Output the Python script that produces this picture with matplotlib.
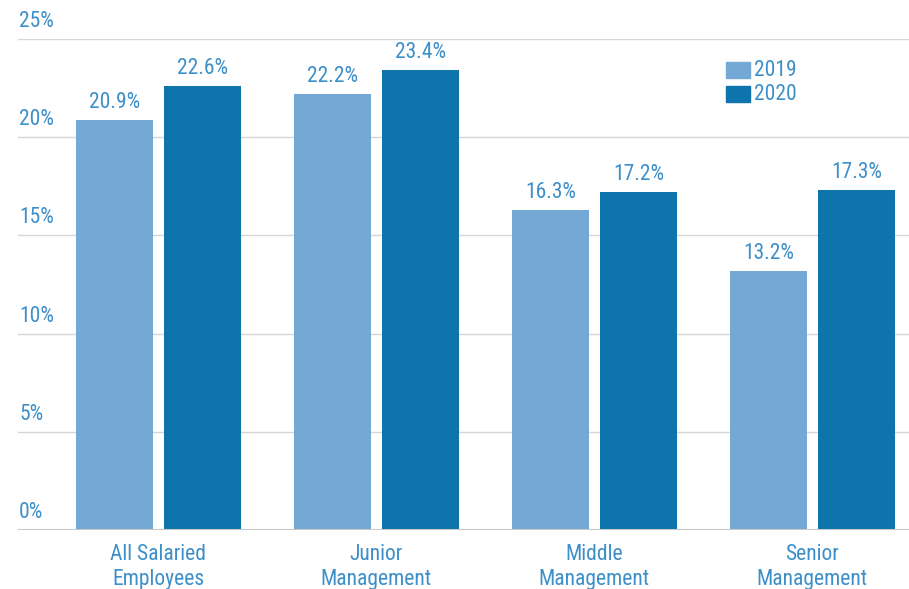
import matplotlib
matplotlib.use("Agg")
import matplotlib.pyplot as plt
import matplotlib.transforms as mtransforms
from matplotlib.patches import Rectangle
import numpy as np

categories = ["All Salaried\nEmployees", "Junior\nManagement", "Middle\nManagement", "Senior\nManagement"]
series_names = ["2019", "2020"]
values_2019 = [20.9, 22.2, 16.3, 13.2]
values_2020 = [22.6, 23.4, 17.2, 17.3]
yticks = [0, 5, 10, 15, 20, 25]
ytick_labels = ["0%", "5%", "10%", "15%", "20%", "25%"]

c2019 = "#74A8D5"
c2020 = "#0E75AC"
txt = "#3D8FC9"
fs = 15.5

plt.rcParams['font.family'] = ['Roboto Condensed', 'DejaVu Sans']

fig = plt.figure(figsize=(9.09, 5.89), dpi=100)
ax = fig.add_axes([18/909, 59/589, 1 - 18/909, (530-39)/589])
ax.set_xlim(-0.644, 3.443)
ax.set_ylim(0, 25)

x = np.arange(len(categories))
w = 77/218
off = 44/218
ax.bar(x - off, values_2019, w, color=c2019, zorder=3)
ax.bar(x + off, values_2020, w, color=c2020, zorder=3)

for xs, vals in ((x - off, values_2019), (x + off, values_2020)):
    for xi, v in zip(xs, vals):
        ax.annotate(f"{v:.1f}%", (xi, v), xytext=(0, 5), textcoords="offset points",
                    ha="center", va="bottom", color=txt, fontsize=fs)

for t in yticks:
    if t == 0:
        ax.axhline(t, color="#C8C8C8", lw=2.2, zorder=4)
    else:
        ax.axhline(t, color="#D6D6D6", lw=1, zorder=1)

trans = mtransforms.blended_transform_factory(fig.transFigure, ax.transData)
for t, lab in zip(yticks, ytick_labels):
    ax.annotate(lab, (19/909, t), xycoords=trans, xytext=(0, 5), textcoords="offset points",
                ha="left", va="bottom", color=txt, fontsize=fs, annotation_clip=False)

for xi, lab in zip(x, categories):
    ax.annotate(lab, (xi, 0), xytext=(0, -10), textcoords="offset points",
                ha="center", va="top", color=txt, fontsize=fs, linespacing=1.25,
                annotation_clip=False)

# legend
for i, (name, col) in enumerate(zip(series_names, [c2019, c2020])):
    y0 = 589 - 78 - i*24
    fig.patches.append(Rectangle((726/909, y0/589), 24/909, 16/589, transform=fig.transFigure,
                                 color=col, figure=fig))
    fig.text(754/909, (y0+8)/589, name, color=txt, fontsize=fs, va="center", ha="left")

ax.set_xticks([])
ax.set_yticks([])
for s in ax.spines.values():
    s.set_visible(False)

fig.savefig("out.png", dpi=100)
